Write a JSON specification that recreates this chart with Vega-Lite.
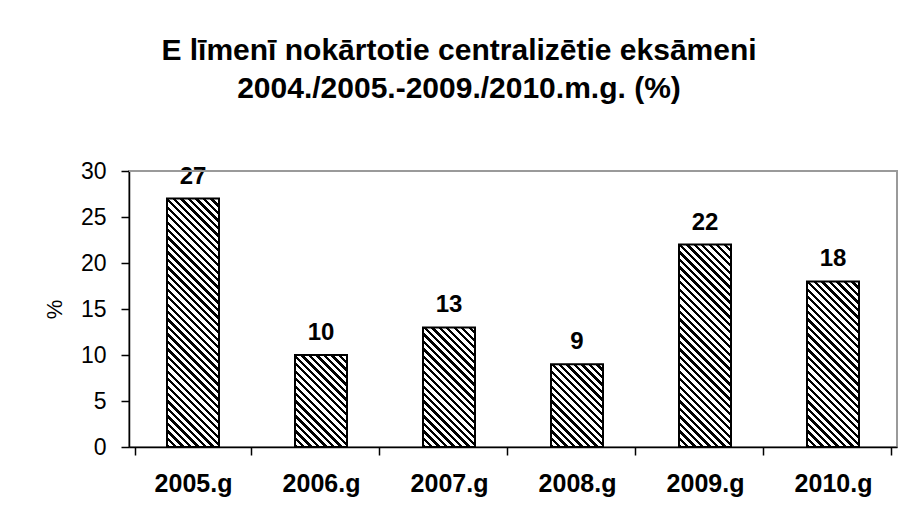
{
  "$schema": "https://vega.github.io/schema/vega-lite/v6.json",
  "width": 768,
  "height": 276,
  "autosize": {"type": "none"},
  "padding": {"left": 129, "top": 171, "right": 13, "bottom": 74},
  "background": "white",
  "config": {
    "view": {"stroke": "#9a9a9a", "strokeWidth": 2},
    "font": "Liberation Sans"
  },
  "title": {
    "text": ["E līmenī nokārtotie centralizētie eksāmeni", "2004./2005.-2009./2010.m.g. (%)"],
    "fontSize": 30,
    "fontWeight": "bold",
    "font": "Liberation Sans",
    "color": "#000",
    "anchor": "middle",
    "dx": -54,
    "offset": 56,
    "lineHeight": 38
  },
  "data": {
    "values": [
      {"year": "2005.g", "pct": 27},
      {"year": "2006.g", "pct": 10},
      {"year": "2007.g", "pct": 13},
      {"year": "2008.g", "pct": 9},
      {"year": "2009.g", "pct": 22},
      {"year": "2010.g", "pct": 18}
    ]
  },
  "layer": [
    {
      "mark": {
        "type": "bar",
        "size": 52,
        "fill": {
          "gradient": "linear",
          "x1": 0, "y1": 1, "x2": 0.2162, "y2": -0.1477,
          "stops": [
            {"offset":0,"color":"#000"},{"offset":0.0102,"color":"#000"},{"offset":0.0102,"color":"#fff"},{"offset":0.0227,"color":"#fff"},
            {"offset":0.0227,"color":"#000"},{"offset":0.0330,"color":"#000"},{"offset":0.0330,"color":"#fff"},{"offset":0.0455,"color":"#fff"},
            {"offset":0.0455,"color":"#000"},{"offset":0.0557,"color":"#000"},{"offset":0.0557,"color":"#fff"},{"offset":0.0682,"color":"#fff"},
            {"offset":0.0682,"color":"#000"},{"offset":0.0784,"color":"#000"},{"offset":0.0784,"color":"#fff"},{"offset":0.0909,"color":"#fff"},
            {"offset":0.0909,"color":"#000"},{"offset":0.1011,"color":"#000"},{"offset":0.1011,"color":"#fff"},{"offset":0.1136,"color":"#fff"},
            {"offset":0.1136,"color":"#000"},{"offset":0.1239,"color":"#000"},{"offset":0.1239,"color":"#fff"},{"offset":0.1364,"color":"#fff"},
            {"offset":0.1364,"color":"#000"},{"offset":0.1466,"color":"#000"},{"offset":0.1466,"color":"#fff"},{"offset":0.1591,"color":"#fff"},
            {"offset":0.1591,"color":"#000"},{"offset":0.1693,"color":"#000"},{"offset":0.1693,"color":"#fff"},{"offset":0.1818,"color":"#fff"},
            {"offset":0.1818,"color":"#000"},{"offset":0.1920,"color":"#000"},{"offset":0.1920,"color":"#fff"},{"offset":0.2045,"color":"#fff"},
            {"offset":0.2045,"color":"#000"},{"offset":0.2148,"color":"#000"},{"offset":0.2148,"color":"#fff"},{"offset":0.2273,"color":"#fff"},
            {"offset":0.2273,"color":"#000"},{"offset":0.2375,"color":"#000"},{"offset":0.2375,"color":"#fff"},{"offset":0.2500,"color":"#fff"},
            {"offset":0.2500,"color":"#000"},{"offset":0.2602,"color":"#000"},{"offset":0.2602,"color":"#fff"},{"offset":0.2727,"color":"#fff"},
            {"offset":0.2727,"color":"#000"},{"offset":0.2830,"color":"#000"},{"offset":0.2830,"color":"#fff"},{"offset":0.2955,"color":"#fff"},
            {"offset":0.2955,"color":"#000"},{"offset":0.3057,"color":"#000"},{"offset":0.3057,"color":"#fff"},{"offset":0.3182,"color":"#fff"},
            {"offset":0.3182,"color":"#000"},{"offset":0.3284,"color":"#000"},{"offset":0.3284,"color":"#fff"},{"offset":0.3409,"color":"#fff"},
            {"offset":0.3409,"color":"#000"},{"offset":0.3511,"color":"#000"},{"offset":0.3511,"color":"#fff"},{"offset":0.3636,"color":"#fff"},
            {"offset":0.3636,"color":"#000"},{"offset":0.3739,"color":"#000"},{"offset":0.3739,"color":"#fff"},{"offset":0.3864,"color":"#fff"},
            {"offset":0.3864,"color":"#000"},{"offset":0.3966,"color":"#000"},{"offset":0.3966,"color":"#fff"},{"offset":0.4091,"color":"#fff"},
            {"offset":0.4091,"color":"#000"},{"offset":0.4193,"color":"#000"},{"offset":0.4193,"color":"#fff"},{"offset":0.4318,"color":"#fff"},
            {"offset":0.4318,"color":"#000"},{"offset":0.4420,"color":"#000"},{"offset":0.4420,"color":"#fff"},{"offset":0.4545,"color":"#fff"},
            {"offset":0.4545,"color":"#000"},{"offset":0.4648,"color":"#000"},{"offset":0.4648,"color":"#fff"},{"offset":0.4773,"color":"#fff"},
            {"offset":0.4773,"color":"#000"},{"offset":0.4875,"color":"#000"},{"offset":0.4875,"color":"#fff"},{"offset":0.5000,"color":"#fff"},
            {"offset":0.5000,"color":"#000"},{"offset":0.5102,"color":"#000"},{"offset":0.5102,"color":"#fff"},{"offset":0.5227,"color":"#fff"},
            {"offset":0.5227,"color":"#000"},{"offset":0.5330,"color":"#000"},{"offset":0.5330,"color":"#fff"},{"offset":0.5455,"color":"#fff"},
            {"offset":0.5455,"color":"#000"},{"offset":0.5557,"color":"#000"},{"offset":0.5557,"color":"#fff"},{"offset":0.5682,"color":"#fff"},
            {"offset":0.5682,"color":"#000"},{"offset":0.5784,"color":"#000"},{"offset":0.5784,"color":"#fff"},{"offset":0.5909,"color":"#fff"},
            {"offset":0.5909,"color":"#000"},{"offset":0.6011,"color":"#000"},{"offset":0.6011,"color":"#fff"},{"offset":0.6136,"color":"#fff"},
            {"offset":0.6136,"color":"#000"},{"offset":0.6239,"color":"#000"},{"offset":0.6239,"color":"#fff"},{"offset":0.6364,"color":"#fff"},
            {"offset":0.6364,"color":"#000"},{"offset":0.6466,"color":"#000"},{"offset":0.6466,"color":"#fff"},{"offset":0.6591,"color":"#fff"},
            {"offset":0.6591,"color":"#000"},{"offset":0.6693,"color":"#000"},{"offset":0.6693,"color":"#fff"},{"offset":0.6818,"color":"#fff"},
            {"offset":0.6818,"color":"#000"},{"offset":0.6920,"color":"#000"},{"offset":0.6920,"color":"#fff"},{"offset":0.7045,"color":"#fff"},
            {"offset":0.7045,"color":"#000"},{"offset":0.7148,"color":"#000"},{"offset":0.7148,"color":"#fff"},{"offset":0.7273,"color":"#fff"},
            {"offset":0.7273,"color":"#000"},{"offset":0.7375,"color":"#000"},{"offset":0.7375,"color":"#fff"},{"offset":0.7500,"color":"#fff"},
            {"offset":0.7500,"color":"#000"},{"offset":0.7602,"color":"#000"},{"offset":0.7602,"color":"#fff"},{"offset":0.7727,"color":"#fff"},
            {"offset":0.7727,"color":"#000"},{"offset":0.7830,"color":"#000"},{"offset":0.7830,"color":"#fff"},{"offset":0.7955,"color":"#fff"},
            {"offset":0.7955,"color":"#000"},{"offset":0.8057,"color":"#000"},{"offset":0.8057,"color":"#fff"},{"offset":0.8182,"color":"#fff"},
            {"offset":0.8182,"color":"#000"},{"offset":0.8284,"color":"#000"},{"offset":0.8284,"color":"#fff"},{"offset":0.8409,"color":"#fff"},
            {"offset":0.8409,"color":"#000"},{"offset":0.8511,"color":"#000"},{"offset":0.8511,"color":"#fff"},{"offset":0.8636,"color":"#fff"},
            {"offset":0.8636,"color":"#000"},{"offset":0.8739,"color":"#000"},{"offset":0.8739,"color":"#fff"},{"offset":0.8864,"color":"#fff"},
            {"offset":0.8864,"color":"#000"},{"offset":0.8966,"color":"#000"},{"offset":0.8966,"color":"#fff"},{"offset":0.9091,"color":"#fff"},
            {"offset":0.9091,"color":"#000"},{"offset":0.9193,"color":"#000"},{"offset":0.9193,"color":"#fff"},{"offset":0.9318,"color":"#fff"},
            {"offset":0.9318,"color":"#000"},{"offset":0.9420,"color":"#000"},{"offset":0.9420,"color":"#fff"},{"offset":0.9545,"color":"#fff"},
            {"offset":0.9545,"color":"#000"},{"offset":0.9648,"color":"#000"},{"offset":0.9648,"color":"#fff"},{"offset":0.9773,"color":"#fff"},
            {"offset":0.9773,"color":"#000"},{"offset":0.9875,"color":"#000"},{"offset":0.9875,"color":"#fff"},{"offset":1,"color":"#fff"}
          ]
        }
      },
      "encoding": {
        "x": {
          "field": "year", "type": "nominal", "sort": null,
          "axis": {
            "title": null, "labelAngle": 0, "tickBand": "extent",
            "labelFontSize": 25, "labelFontWeight": "bold", "labelColor": "#000",
            "labelPadding": 16, "tickSize": 8, "tickColor": "#000", "tickWidth": 1.5,
            "domainColor": "#000", "domainWidth": 1.5
          }
        },
        "y": {
          "datum": 30, "type": "quantitative",
          "scale": {"domain": [0, 30], "nice": false},
          "axis": {
            "title": "%", "values": [0, 5, 10, 15, 20, 25, 30], "grid": false,
            "domainColor": "#000", "domainWidth": 1.5, "tickColor": "#000", "tickWidth": 1.5, "tickSize": 8,
            "labelFontSize": 23, "labelColor": "#000", "labelPadding": 15,
            "titleFontSize": 22, "titleFontWeight": "normal", "titleColor": "#000", "titlePadding": 14
          }
        }
      }
    },
    {
      "mark": {"type": "bar", "size": 52, "fill": "#fff"},
      "encoding": {
        "x": {"field": "year", "type": "nominal", "sort": null},
        "y": {"field": "pct", "type": "quantitative"},
        "y2": {"datum": 30}
      }
    },
    {
      "mark": {"type": "bar", "size": 52, "fillOpacity": 0, "stroke": "#000", "strokeWidth": 2},
      "encoding": {
        "x": {"field": "year", "type": "nominal", "sort": null},
        "y": {"field": "pct", "type": "quantitative"}
      }
    },
    {
      "mark": {"type": "text", "baseline": "alphabetic", "dy": -15, "fontSize": 24, "fontWeight": "bold", "color": "#000", "font": "Liberation Sans"},
      "encoding": {
        "x": {"field": "year", "type": "nominal", "sort": null},
        "y": {"field": "pct", "type": "quantitative"},
        "text": {"field": "pct", "type": "quantitative"}
      }
    },
    {
      "mark": {"type": "rule", "color": "#9a9a9a", "strokeWidth": 2},
      "encoding": {"y": {"datum": 30}}
    }
  ]
}
